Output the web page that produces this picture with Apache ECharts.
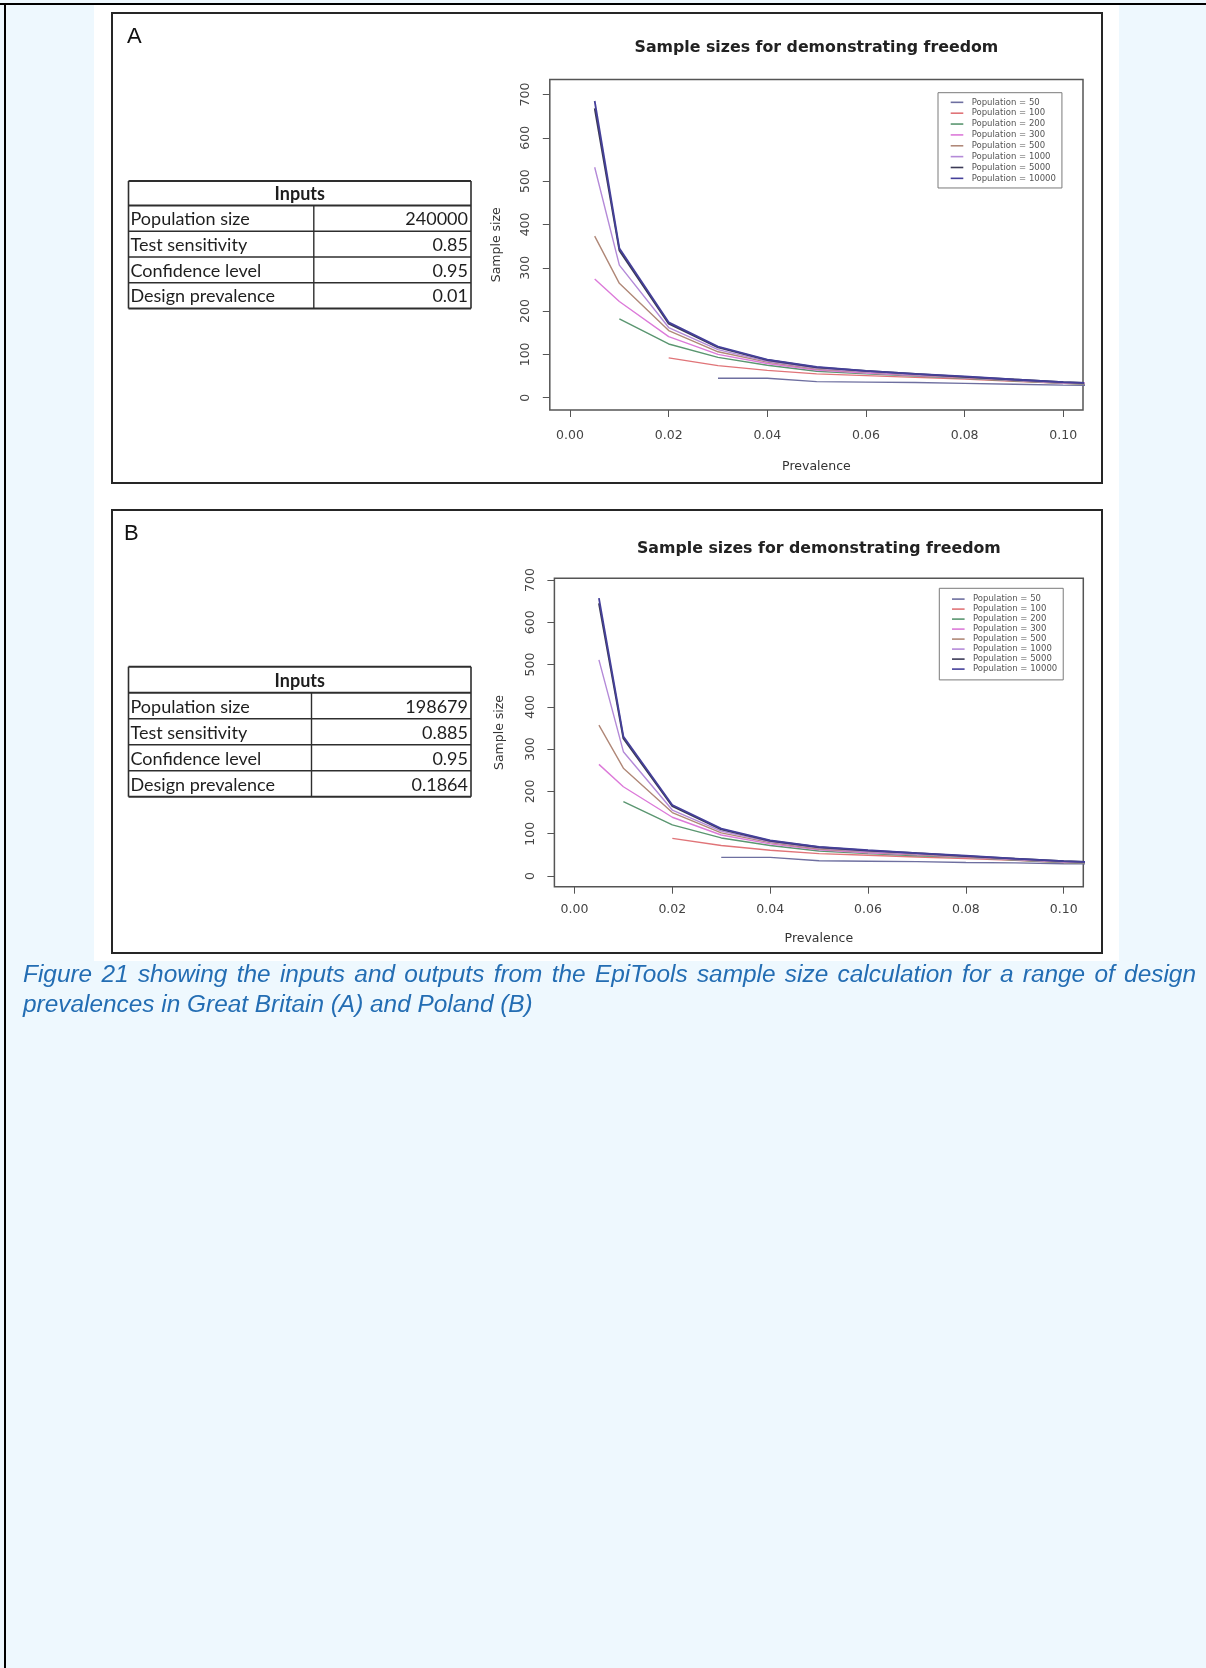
<!DOCTYPE html>
<html>
<head>
<meta charset="utf-8">
<script src="https://cdn.jsdelivr.net/npm/echarts@6/dist/echarts.min.js"></script>
<style>
  html, body { margin: 0; padding: 0; background: #eef8fe; }
  #page { position: relative; width: 1206px; height: 1668px; overflow: hidden; }
  #chart { position: absolute; left: 0; top: 0; width: 1206px; height: 1668px; }
  #caption {
    position: absolute; left: 23px; top: 959px; width: 1173px;
    font-family: 'Liberation Sans', Arial, sans-serif; font-style: italic;
    font-size: 24.4px; line-height: 30px; color: #236db3; text-align: justify;
  }
</style>
</head>
<body>
<div id="page">
  <div id="chart"></div>
  <div id="caption">Figure 21 showing the inputs and outputs from the EpiTools sample size calculation for a range of design prevalences in Great Britain (A) and Poland (B)</div>
</div>
<script>
// prevalence steps used by the curves (last one runs past the axis and gets clipped)
const prevalence = [0.005, 0.01, 0.02, 0.03, 0.04, 0.05, 0.06, 0.07, 0.08, 0.09, 0.10, 0.11]
const populations = ['Population = 50', 'Population = 100', 'Population = 200', 'Population = 300',
  'Population = 500', 'Population = 1000', 'Population = 5000', 'Population = 10000']
const xTicks = [0, 0.02, 0.04, 0.06, 0.08, 0.10]
const yTicks = [0, 100, 200, 300, 400, 500, 600, 700]

// A - Great Britain
const gb50 = [null, null, null, 45, 45, 37, 36, 35, 33, 31, 29, 28]
const gb100 = [null, null, 92, 74, 63, 55, 51, 47, 43, 38, 33, 30]
const gb200 = [null, 182, 124, 93, 75, 61, 55, 50, 45, 39, 33, 30]
const gb300 = [274, 222, 141, 100, 79, 64, 57, 51, 46, 40, 34, 31]
const gb500 = [373, 264, 155, 106, 82, 66, 59, 52, 47, 41, 35, 31]
const gb1000 = [532, 306, 162, 111, 84, 68, 60, 53, 48, 41, 35, 32]
const gb5000 = [668, 340, 171, 116, 87, 70, 62, 55, 48, 42, 36, 32]
const gb10000 = [685, 345, 174, 118, 88, 71, 62, 55, 49, 42, 36, 32]

// B - Poland
const pl50 = [null, null, null, 44, 44, 36, 35, 34, 32, 31, 29, 28]
const pl100 = [null, null, 89, 72, 61, 53, 49, 45, 41, 37, 32, 29]
const pl200 = [null, 176, 121, 90, 72, 59, 53, 48, 44, 38, 32, 29]
const pl300 = [264, 211, 139, 97, 76, 62, 55, 50, 45, 39, 33, 30]
const pl500 = [357, 255, 150, 102, 79, 64, 57, 51, 46, 40, 34, 30]
const pl1000 = [511, 294, 156, 106, 81, 66, 58, 52, 47, 40, 34, 31]
const pl5000 = [645, 325, 165, 110, 83, 68, 60, 54, 47, 41, 35, 31]
const pl10000 = [657, 330, 168, 112, 84, 69, 61, 54, 48, 41, 35, 31]

const inputLabels = ['Population size', 'Test sensitivity', 'Confidence level', 'Design prevalence']
const gbInputs = ['240000', '0.85', '0.95', '0.01']
const plInputs = ['198679', '0.885', '0.95', '0.1864']

const lineColors = ['#6e6fa0', '#e07478', '#5a9670', '#dc7ad9', '#b08878', '#b48ad8', '#3b3a56', '#45409a']

const panels = [
  {
    letter: 'A', values: [gb50, gb100, gb200, gb300, gb500, gb1000, gb5000, gb10000], inputs: gbInputs,
    frame: { x: 112, y: 13, w: 990, h: 470 }, letterPos: [127, 48],
    grid: { left: 549.8, top: 79.5, width: 533.2, height: 330.5 },
    yMin: -28.4, yMax: 734.6, titleY: 48,
    xLabelMargin: 19.5, xNameGap: 50, yLabelMargin: 18, yNameGap: 47,
    legend: { left: 938, top: 92.7, gap: 10.86, pad: 4.2 },
    table: { left: 128.5, right: 471, top: 181, head: 205.5, bottom: 308.5, split: 313.8 }
  },
  {
    letter: 'B', values: [pl50, pl100, pl200, pl300, pl500, pl1000, pl5000, pl10000], inputs: plInputs,
    frame: { x: 112, y: 510, w: 990, h: 443 }, letterPos: [124, 545],
    grid: { left: 554.4, top: 578.3, width: 528.9, height: 308.4 },
    yMin: -25.3, yMax: 704, titleY: 549,
    xLabelMargin: 16.5, xNameGap: 46, yLabelMargin: 17, yNameGap: 48,
    legend: { left: 939.3, top: 588.3, gap: 10, pad: 5.8 },
    table: { left: 128.5, right: 471, top: 666.7, head: 692.7, bottom: 796.7, split: 311.5 }
  }
]

const axisFont = { fontFamily: 'DejaVu Sans', fontSize: 12.5, color: '#444' }

function tableGraphics (t, values) {
  const els = []
  const rowH = (t.bottom - t.head) / inputLabels.length
  const ln = (x1, y1, x2, y2, w) => ({ type: 'line', shape: { x1, y1, x2, y2 }, style: { stroke: '#2e2e2e', lineWidth: w } })
  els.push(ln(t.left, t.top, t.right, t.top, 2))
  els.push(ln(t.left, t.top, t.left, t.bottom, 1.6))
  els.push(ln(t.right, t.top, t.right, t.bottom, 1.6))
  els.push(ln(t.left, t.head, t.right, t.head, 2))
  els.push(ln(t.split, t.head, t.split, t.bottom, 1.4))
  for (let i = 1; i <= inputLabels.length; i++) {
    els.push(ln(t.left, t.head + rowH * i, t.right, t.head + rowH * i, i === inputLabels.length ? 2 : 1.6))
  }
  els.push({
    type: 'text', x: (t.left + t.right) / 2, y: (t.top + t.head) / 2 + 1,
    style: { text: 'Inputs', fontFamily: 'Lato', fontSize: 18, fontWeight: 'bold', fill: '#1e1e1e', textAlign: 'center', textVerticalAlign: 'middle' }
  })
  inputLabels.forEach((lab, i) => {
    const cy = t.head + rowH * (i + 0.5) + 1
    els.push({ type: 'text', x: t.left + 2, y: cy, style: { text: lab, fontFamily: 'Lato', fontSize: 18, fill: '#1e1e1e', textAlign: 'left', textVerticalAlign: 'middle' } })
    els.push({ type: 'text', x: t.right - 3, y: cy, style: { text: values[i], fontFamily: 'Lato', fontSize: 18, fill: '#1e1e1e', textAlign: 'right', textVerticalAlign: 'middle' } })
  })
  return els
}

const graphic = [
  { type: 'rect', z: -20, shape: { x: 94, y: 5, width: 1025, height: 956 }, style: { fill: '#ffffff' } },
  { type: 'rect', shape: { x: 0, y: 3, width: 1206, height: 2 }, style: { fill: '#000' } },
  { type: 'rect', shape: { x: 4, y: 3, width: 2, height: 1665 }, style: { fill: '#000' } }
]
panels.forEach(p => {
  graphic.push({ type: 'rect', z: -10, shape: { x: p.frame.x, y: p.frame.y, width: p.frame.w, height: p.frame.h }, style: { fill: '#fff', stroke: '#262626', lineWidth: 2 } })
  graphic.push({ type: 'text', x: p.letterPos[0], y: p.letterPos[1], style: { text: p.letter, fontFamily: 'Liberation Sans', fontSize: 22, fill: '#111', textVerticalAlign: 'bottom' } })
  graphic.push({
    type: 'text', x: p.grid.left + p.grid.width / 2, y: p.titleY,
    style: { text: 'Sample sizes for demonstrating freedom', fontFamily: 'DejaVu Sans', fontWeight: 'bold', fontSize: 15.8, fill: '#222', textAlign: 'center', textVerticalAlign: 'middle' }
  })
  graphic.push(...tableGraphics(p.table, p.inputs))
})

const option = {
  animation: false,
  graphic,
  grid: panels.map(p => ({ ...p.grid, show: true, borderColor: '#555', borderWidth: 1.5, backgroundColor: 'transparent' })),
  xAxis: panels.map((p, i) => ({
    gridIndex: i, type: 'value', min: -0.0041, max: 0.104,
    axisLine: { show: false, onZero: false }, splitLine: { show: false },
    axisTick: { show: true, inside: false, customValues: xTicks, length: 7, lineStyle: { color: '#555' } },
    axisLabel: { customValues: xTicks, formatter: v => v.toFixed(2), margin: p.xLabelMargin, ...axisFont },
    name: 'Prevalence', nameLocation: 'middle', nameGap: p.xNameGap, nameTextStyle: { ...axisFont, color: '#333' }
  })),
  yAxis: panels.map((p, i) => ({
    gridIndex: i, type: 'value', min: p.yMin, max: p.yMax,
    axisLine: { show: false, onZero: false }, splitLine: { show: false },
    axisTick: { show: true, inside: false, customValues: yTicks, length: 7, lineStyle: { color: '#555' } },
    axisLabel: { customValues: yTicks, rotate: 90, margin: p.yLabelMargin, ...axisFont },
    name: 'Sample size', nameLocation: 'middle', nameRotate: 90, nameGap: p.yNameGap, nameTextStyle: { ...axisFont, color: '#333' }
  })),
  legend: panels.map(p => ({
    data: populations, orient: 'vertical', left: p.legend.left, top: p.legend.top,
    padding: [p.legend.pad, 6, p.legend.pad, 12.7], itemGap: 0, itemWidth: 12.6, itemHeight: 1.6, icon: 'rect',
    borderColor: '#7a7a7a', borderWidth: 1, backgroundColor: '#fff', selectedMode: false,
    textStyle: { fontFamily: 'DejaVu Sans', fontSize: 8.5, color: '#555', lineHeight: p.legend.gap, height: p.legend.gap, padding: [0, 0, 0, 3.4] }
  })),
  series: panels.flatMap((p, gi) => p.values.map((vals, i) => ({
    name: populations[i], type: 'line', xAxisIndex: gi, yAxisIndex: gi,
    data: prevalence.map((x, j) => [x, vals[j]]).filter(d => d[1] !== null),
    symbol: 'none', color: lineColors[i], clip: true, silent: true,
    lineStyle: { width: i >= 6 ? 1.8 : 1.4, color: lineColors[i] }
  })))
}

const chart = echarts.init(document.getElementById('chart'), null, { renderer: 'canvas' })
chart.setOption(option)
</script>
</body>
</html>
